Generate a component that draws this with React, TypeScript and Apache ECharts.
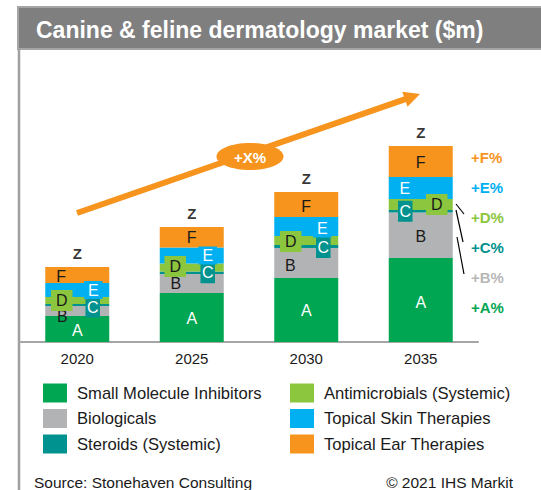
import React, { useEffect, useRef } from "react";
import * as echarts from "echarts";

// ---- data (values in $m) ----
const years = ["2020", "2025", "2030", "2035"];
const smallMoleculeInhibitors = [26, 49, 64, 84];
const biologicals = [10, 19, 30, 45.5];
const steroidsSystemic = [2, 2.5, 3, 2.5];
const antimicrobialsSystemic = [7, 8, 9, 11];
const topicalSkinTherapies = [14, 16, 19, 22];
const topicalEarTherapies = [16, 20.5, 25, 31];
const seriesNames = [
  "Small Molecule Inhibitors",
  "Biologicals",
  "Steroids (Systemic)",
  "Antimicrobials (Systemic)",
  "Topical Skin Therapies",
  "Topical Ear Therapies",
];
const segmentLetters = ["A", "B", "C", "D", "E", "F"];
const totalLabel = "Z";
const growthLabels = ["+F%", "+E%", "+D%", "+C%", "+B%", "+A%"];
const trendLabel = "+X%";
const titleText = "Canine & feline dermatology market ($m)";
const sourceText = "Source: Stonehaven Consulting";
const copyrightText = "\u00a9 2021 IHS Markit";

// ---- styles / layout ----
const FONT = "'Liberation Sans', Arial, Helvetica, sans-serif";
const colors = ["#00a651", "#b2b3b5", "#00928f", "#8cc63f", "#00b0f0", "#f7941d"];
const labelColors = ["#ffffff", "#1a1a1a", "#ffffff", "#1a1a1a", "#ffffff", "#1a1a1a"];
const labelBgs: (string | undefined)[] = [undefined, undefined, "#00928f", "#8cc63f", "#00b0f0", undefined];
const labelPads: any[] = [0, 0, [3, 1.5, 2, 1.5], [3, 5, 2, 5], [1, 4, 1, 4], 0];
const labelOffsets: number[][][] = [
  [[0, 1], [0, 1], [0, 0], [0, 2]],
  [[-15, 5], [-16, 0], [-16, 2], [0, 1.5]],
  [[15.5, 2], [16, 0], [17, 1], [-15.5, 0]],
  [[-15.5, 0], [-16.5, -1], [-15.5, 1], [16, 0]],
  [[16, 0], [16, 0], [16, 2], [-16, 0]],
  [[-16, 1.5], [0, 0], [0, 1.5], [0, 1]],
];
const growthColors = ["#f7941d", "#00b0f0", "#8cc63f", "#00928f", "#b7b7b7", "#00a651"];

export default function App() {
  const ref = useRef<HTMLDivElement>(null);

  useEffect(() => {
    if (!ref.current) return;
    const chart = echarts.init(ref.current, undefined, { renderer: "svg" });
    const allSeries = [
      smallMoleculeInhibitors,
      biologicals,
      steroidsSystemic,
      antimicrobialsSystemic,
      topicalSkinTherapies,
      topicalEarTherapies,
    ];
    const totals = years.map((_, j) => allSeries.reduce((s, arr) => s + arr[j], 0));

    const barSeries = allSeries.map((vals, i) => ({
      name: seriesNames[i],
      type: "bar",
      stack: "total",
      barWidth: 64,
      itemStyle: { color: colors[i] },
      label: {
        show: true,
        position: "inside",
        formatter: segmentLetters[i],
        color: labelColors[i],
        fontSize: 16,
        fontFamily: FONT,
        backgroundColor: labelBgs[i],
        padding: labelPads[i],
      },
      data: vals.map((v, j) => ({ value: v, label: { offset: labelOffsets[i][j] } })),
    }));

    const txt = (text: string, x: number, y: number, fill: string, size: number, weight: string, align = "left") => ({
      type: "text",
      style: {
        text,
        x,
        y,
        fill,
        fontSize: size,
        fontWeight: weight,
        fontFamily: FONT,
        align,
        textAlign: align,
        verticalAlign: "middle",
        textVerticalAlign: "middle",
      },
    });

    // arrow geometry
    const tail = [77, 213];
    const tip = [420, 94];
    const dx = tip[0] - tail[0];
    const dy = tip[1] - tail[1];
    const len = Math.sqrt(dx * dx + dy * dy);
    const ux = dx / len, uy = dy / len;
    const nx = -uy, ny = ux;
    const headLen = 16, headHalf = 8;
    const bx = tip[0] - headLen * ux, by = tip[1] - headLen * uy;

    const legendCommon = {
      orient: "vertical",
      top: 383.5,
      padding: 0,
      itemWidth: 24,
      itemHeight: 19,
      itemGap: 6.5,
      icon: "rect",
      selectedMode: false,
      textStyle: { fontSize: 16.6, color: "#1a1a1a", fontFamily: FONT, padding: [0, 0, 0, 5] },
    };

    chart.setOption({
      animation: false,
      grid: { left: 20, right: 63, top: 142, bottom: 148, containLabel: false },
      xAxis: {
        type: "category",
        data: years,
        axisTick: { show: false },
        axisLine: { lineStyle: { color: "#a6a6a6", width: 2 } },
        axisLabel: { fontSize: 15, color: "#1a1a1a", fontFamily: FONT, margin: 9 },
      },
      yAxis: { type: "value", min: 0, max: 200, show: false },
      legend: [
        { ...legendCommon, data: seriesNames.slice(0, 3), left: 43 },
        { ...legendCommon, data: seriesNames.slice(3, 6), left: 290 },
      ],
      series: [
        ...barSeries,
        {
          name: "total",
          type: "scatter",
          symbolSize: 0,
          silent: true,
          z: 5,
          data: totals,
          label: {
            show: true,
            position: "top",
            distance: 6,
            formatter: totalLabel,
            fontSize: 15,
            fontWeight: "bold",
            color: "#000",
            fontFamily: FONT,
          },
        },
      ],
      graphic: [
        {
          type: "rect",
          shape: { x: 18, y: 7, width: 530, height: 42 },
          style: { fill: "#7f7f7f", stroke: "#a5a5a5", lineWidth: 2 },
        },
        txt(titleText, 36, 29.5, "#ffffff", 23, "bold"),
        {
          type: "line",
          shape: { x1: 19, y1: 49, x2: 19, y2: 490 },
          style: { stroke: "#a0a0a0", lineWidth: 2.5 },
        },
        {
          type: "line",
          shape: { x1: tail[0], y1: tail[1], x2: bx + 2 * ux, y2: by + 2 * uy },
          style: { stroke: "#f7941d", lineWidth: 6 },
        },
        {
          type: "polygon",
          shape: {
            points: [
              [tip[0], tip[1]],
              [bx + headHalf * nx, by + headHalf * ny],
              [bx - headHalf * nx, by - headHalf * ny],
            ],
          },
          style: { fill: "#f7941d" },
        },
        {
          type: "ellipse",
          shape: { cx: 250, cy: 156.5, rx: 33.5, ry: 13.5 },
          style: { fill: "#f7941d" },
        },
        txt(trendLabel, 250, 157, "#ffffff", 15, "bold", "center"),
        { type: "line", shape: { x1: 456, y1: 204, x2: 464, y2: 214 }, style: { stroke: "#000", lineWidth: 1.2 } },
        { type: "line", shape: { x1: 456, y1: 210, x2: 463, y2: 242 }, style: { stroke: "#000", lineWidth: 1.2 } },
        { type: "line", shape: { x1: 457, y1: 237, x2: 464, y2: 274 }, style: { stroke: "#000", lineWidth: 1.2 } },
        ...growthLabels.map((t, i) => txt(t, 471, 157 + i * 30, growthColors[i], 15, "bold")),
        txt(sourceText, 34, 482, "#1a1a1a", 15.5, "normal"),
        txt(copyrightText, 513, 482, "#1a1a1a", 15.5, "normal", "right"),
      ],
    });
    return () => chart.dispose();
  }, []);

  return (
    <div
      ref={ref}
      style={{ position: "fixed", left: 0, top: 0, width: 541, height: 490, background: "#ffffff" }}
    />
  );
}
